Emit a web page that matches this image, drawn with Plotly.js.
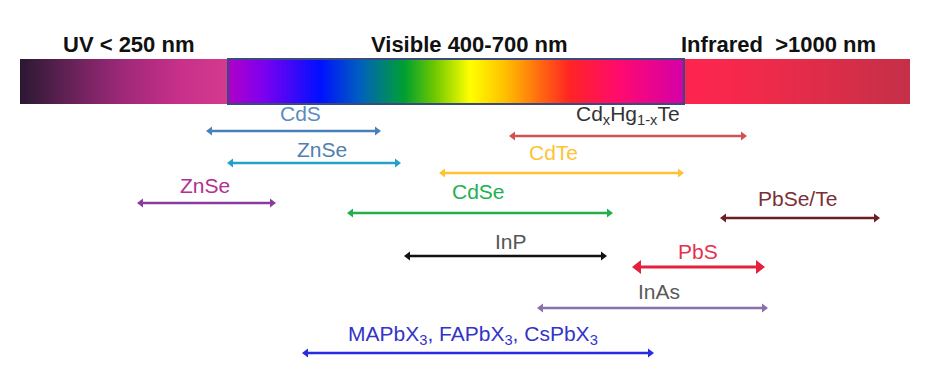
<!DOCTYPE html>
<html>
<head>
<meta charset="utf-8">
<script src="https://cdn.plot.ly/plotly-3.0.1.min.js"></script>
<style>html,body{margin:0;padding:0;background:#fff;}#chart{width:925px;height:387px;}</style>
</head>
<body>
<div id="chart"></div>
<script>
// ---- Data ----
const regionLabels = ['UV < 250 nm', 'Visible 400-700 nm', 'Infrared  >1000 nm'];
const regionLabelX = [128, 469, 778];

// spectrum band (positions along the schematic axis) and colour stops
const bandStart = 20, bandEnd = 910;
const visibleStart = 228, visibleEnd = 684;
const spectrumPos = [20, 60, 120, 180, 227.5, 228.5, 265, 320, 360, 405, 435, 470, 505, 540, 570, 620, 683.5, 684.5, 760, 910];
const spectrumCol = ['#2b1832', '#5a2050', '#9c2878', '#c8308a', '#d43a8e', '#b000c8', '#7a00f0', '#0010ff', '#0060c0', '#00a030', '#70c800', '#ffff00', '#ffc000', '#ff6a10', '#ff2424', '#ff0a70', '#d400a8', '#ff2450', '#f02a4a', '#c43048'];

const materials = ['CdS', 'ZnSe', 'ZnSe', 'CdSe', 'InP', 'MAPbX<sub>3</sub>, FAPbX<sub>3</sub>, CsPbX<sub>3</sub>',
                   'Cd<sub>x</sub>Hg<sub>1-x</sub>Te', 'CdTe', 'PbSe/Te', 'PbS', 'InAs'];
const rangeStart = [207, 228, 138, 348, 405, 303, 510, 440, 721, 633, 538];
const rangeEnd   = [380, 400, 275, 612, 606, 653, 746, 683, 879, 764, 767];
const rowLevel   = [131, 163, 203, 213, 256, 353, 136, 173, 218, 267, 308];

// ---- Styles ----
const lineColors = ['#4a80b8', '#22a2c8', '#8a3c9e', '#22b04c', '#111111', '#2a2ae6', '#d05252', '#ffc232', '#6a1f26', '#e4203c', '#8a70a8'];
const textColors = ['#5b8cc0', '#4f7fae', '#b03092', '#22b050', '#555555', '#3434c8', '#333333', '#ffc232', '#7a3036', '#e83050', '#5a5a5a'];
const labelDx = [7, 8, -2, -2, 5, -5, 0, -8, -3, -1, 6];
const labelDy = [-18, -14, -18, -22, -15, -18, -21, -21, -20, -16, -17];
const headSize = [8, 8, 8, 8, 8, 8, 8, 8, 8, 12, 8];

// ---- Build traces ----
const traces = [];

// spectrum band as heatmap
const nCols = 445;
const xEdges = [], zRow = [];
for (let i = 0; i <= nCols; i++) xEdges.push(bandStart + (bandEnd - bandStart) * i / nCols);
for (let i = 0; i < nCols; i++) zRow.push((xEdges[i] + xEdges[i + 1]) / 2);
const colorscale = spectrumPos.map((p, i) => [(p - bandStart) / (bandEnd - bandStart), spectrumCol[i]]);
traces.push({
  type: 'heatmap', x: xEdges, y: [59, 104], z: [zRow],
  zmin: bandStart, zmax: bandEnd, colorscale: colorscale,
  showscale: false, hoverinfo: 'skip', zsmooth: false
});

const annotations = [];
materials.forEach((m, i) => {
  const hs = headSize[i];
  traces.push({
    type: 'scatter', mode: 'lines+markers',
    x: [rangeStart[i] + hs / 2 - 1, rangeEnd[i] - hs / 2 + 1],
    y: [rowLevel[i], rowLevel[i]],
    line: {color: lineColors[i], width: i === 9 ? 3 : 2.5},
    marker: {symbol: ['triangle-left', 'triangle-right'], size: hs, color: lineColors[i], line: {width: 0}},
    hoverinfo: 'skip', showlegend: false
  });
  annotations.push({
    x: (rangeStart[i] + rangeEnd[i]) / 2 + labelDx[i], y: rowLevel[i] + labelDy[i],
    xref: 'x', yref: 'y', text: m, showarrow: false,
    font: {family: 'Liberation Sans, Arial, sans-serif', size: 21, color: textColors[i]},
    xanchor: 'center', yanchor: 'middle'
  });
});

regionLabels.forEach((t, i) => {
  annotations.push({
    x: regionLabelX[i], y: 44, xref: 'x', yref: 'y', text: '<b>' + t + '</b>', showarrow: false,
    font: {family: 'Liberation Sans, Arial, sans-serif', size: 22, color: '#111111'},
    xanchor: 'center', yanchor: 'middle'
  });
});

const layout = {
  width: 925, height: 387,
  margin: {l: 0, r: 0, t: 0, b: 0},
  paper_bgcolor: '#ffffff', plot_bgcolor: '#ffffff',
  showlegend: false,
  xaxis: {range: [0, 925], visible: false, fixedrange: true},
  yaxis: {range: [387, 0], visible: false, fixedrange: true},
  shapes: [{
    type: 'rect', xref: 'x', yref: 'y',
    x0: visibleStart, x1: visibleEnd, y0: 59, y1: 104,
    line: {color: '#3a4a7c', width: 2}, fillcolor: 'rgba(0,0,0,0)'
  }],
  annotations: annotations
};

Plotly.newPlot('chart', traces, layout, {staticPlot: true, displayModeBar: false});
</script>
</body>
</html>
